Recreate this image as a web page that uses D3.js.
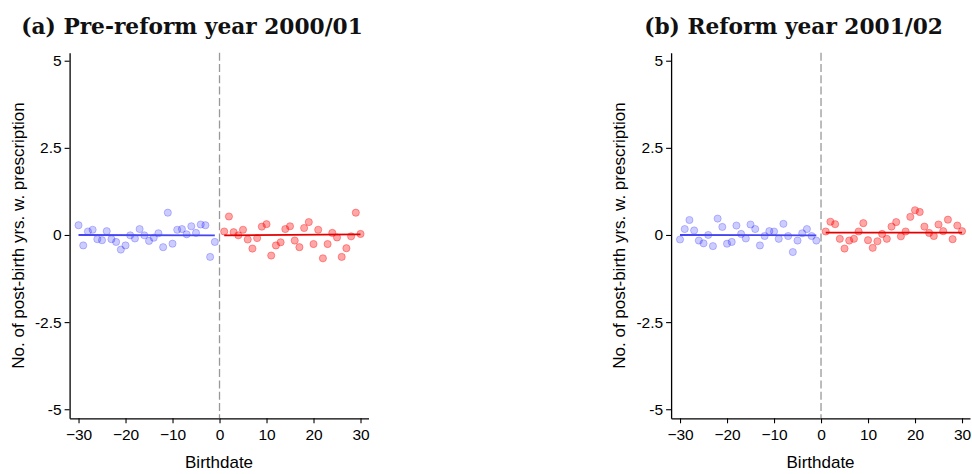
<!DOCTYPE html>
<html>
<head>
<meta charset="utf-8">
<script src="https://cdn.jsdelivr.net/npm/d3@7"></script>
<style>
  html, body { margin: 0; padding: 0; background: #fff; }
  svg { display: block; }
</style>
</head>
<body>
<svg id="chart" width="972" height="474"></svg>
<script>
// ---------------- data ----------------
const titles = ["(a) Pre-reform year 2000/01", "(b) Reform year 2001/02"];
const yAxisLabel = "No. of post-birth yrs. w. prescription";
const xAxisLabel = "Birthdate";
const xTicks = [-30, -20, -10, 0, 10, 20, 30];
const yTicks = [5, 2.5, 0, -2.5, -5];
const yTickLabels = ["5", "2.5", "0", "-2.5", "-5"];

const birthLeft  = [-30,-29,-28,-27,-26,-25,-24,-23,-22,-21,-20,-19,-18,-17,-16,-15,-14,-13,-12,-11,-10,-9,-8,-7,-6,-5,-4,-3,-2,-1];
const birthRight = [1,2,3,4,5,6,7,8,9,10,11,12,13,14,15,16,17,18,19,20,21,22,23,24,25,26,27,28,29,30];

const preLeft  = [0.28,-0.30,0.10,0.15,-0.12,-0.15,0.11,-0.12,-0.20,-0.42,-0.30,-0.01,-0.10,0.17,-0.01,-0.17,-0.08,0.05,-0.35,0.64,-0.25,0.15,0.17,0.02,0.25,0.06,0.30,0.28,-0.63,-0.20];
const preRight = [0.10,0.53,0.08,-0.01,0.15,-0.13,-0.39,-0.09,0.24,0.31,-0.59,-0.30,-0.21,0.17,0.25,-0.16,-0.35,0.20,0.37,-0.26,0.15,-0.67,-0.26,0.06,-0.07,-0.63,-0.38,-0.04,0.64,0.03];
const refLeft  = [-0.13,0.17,0.43,0.13,-0.16,-0.24,0.00,-0.32,0.47,0.23,-0.25,-0.20,0.27,0.03,-0.10,0.30,0.17,-0.30,-0.03,0.11,0.10,-0.11,0.32,-0.03,-0.49,-0.16,0.05,0.17,-0.03,-0.16];
const refRight = [0.10,0.38,0.31,-0.11,-0.39,-0.16,-0.11,0.10,0.34,-0.15,-0.37,-0.18,0.03,-0.11,0.24,0.37,-0.04,0.10,0.52,0.71,0.66,0.24,0.06,-0.03,0.30,0.11,0.44,-0.12,0.27,0.11];

// fitted line endpoints (value at first and last birthdate of each side)
const fitPreLeft  = [0.00, -0.01];
const fitPreRight = [-0.01, 0.02];
const fitRefLeft  = [0.00, -0.01];
const fitRefRight = [0.07, 0.07];

const panels = [
  { title: titles[0], left: preLeft, right: preRight, fitL: fitPreLeft, fitR: fitPreRight, ox: 0 },
  { title: titles[1], left: refLeft, right: refRight, fitL: fitRefLeft, fitR: fitRefRight, ox: 601.5 }
];

// ---------------- drawing ----------------
const svg = d3.select("#chart");
const sans = "'Liberation Sans', Arial, Helvetica, sans-serif";
const serif = "'DejaVu Serif', Georgia, serif";

panels.forEach(p => {
  const g = svg.append("g").attr("transform", `translate(${p.ox},0)`);
  const x = d3.scaleLinear().domain([-31.9, 31.7]).range([69.6, 368.5]);
  const y = d3.scaleLinear().domain([-5.26, 5.23]).range([418.3, 52.7]);

  // title
  g.append("text")
    .attr("x", 192).attr("y", 34)
    .attr("text-anchor", "middle")
    .style("font-family", serif).style("font-weight", "bold")
    .style("font-size", "21.7px").style("fill", "#111")
    .text(p.title);

  // x axis
  const xa = g.append("g").attr("transform", `translate(0,${y.range()[0]})`)
    .call(d3.axisBottom(x).tickValues(xTicks).tickSize(5).tickPadding(6).tickSizeOuter(0));
  // y axis
  const ya = g.append("g").attr("transform", `translate(${x.range()[0]},0)`)
    .call(d3.axisLeft(y).tickValues(yTicks).tickFormat((d, i) => yTickLabels[i]).tickSize(5).tickPadding(3).tickSizeOuter(0));
  [xa, ya].forEach(a => {
    a.select(".domain").attr("stroke", "#000").attr("stroke-width", 1.3);
    a.selectAll(".tick line").attr("stroke", "#000").attr("stroke-width", 1.1);
    a.selectAll(".tick text").style("font-family", sans).style("font-size", "15.5px").attr("fill", "#000");
  });

  // axis titles
  g.append("text")
    .attr("x", (x.range()[0] + x.range()[1]) / 2).attr("y", 468)
    .attr("text-anchor", "middle")
    .style("font-family", sans).style("font-size", "17px").style("fill", "#000")
    .text(xAxisLabel);
  g.append("text")
    .attr("transform", `translate(23.5,${(y.range()[0] + y.range()[1]) / 2}) rotate(-90)`)
    .attr("text-anchor", "middle")
    .style("font-family", sans).style("font-size", "17px").style("fill", "#000")
    .text(yAxisLabel);

  // cutoff line
  g.append("line")
    .attr("x1", x(0)).attr("x2", x(0))
    .attr("y1", y.range()[1]).attr("y2", y.range()[0])
    .attr("stroke", "#999").attr("stroke-width", 1.3)
    .attr("stroke-dasharray", "8,3.3");

  // points
  g.append("g").selectAll("circle").data(p.left).join("circle")
    .attr("cx", (d, i) => x(birthLeft[i])).attr("cy", d => y(d)).attr("r", 3.6)
    .attr("fill", "rgba(0,0,255,0.2)").attr("stroke", "rgba(0,0,255,0.22)").attr("stroke-width", 1);
  g.append("g").selectAll("circle").data(p.right).join("circle")
    .attr("cx", (d, i) => x(birthRight[i])).attr("cy", d => y(d)).attr("r", 3.6)
    .attr("fill", "rgba(255,0,0,0.35)").attr("stroke", "rgba(255,0,0,0.35)").attr("stroke-width", 1);

  // fitted lines
  const line = d3.line().x(d => x(d[0])).y(d => y(d[1]));
  g.append("path")
    .datum([[birthLeft[0], p.fitL[0]], [birthLeft[birthLeft.length - 1], p.fitL[1]]])
    .attr("d", line).attr("fill", "none").attr("stroke", "#4646f0").attr("stroke-width", 1.8);
  g.append("path")
    .datum([[birthRight[0], p.fitR[0]], [birthRight[birthRight.length - 1], p.fitR[1]]])
    .attr("d", line).attr("fill", "none").attr("stroke", "#e00000").attr("stroke-width", 1.8);
});
</script>
</body>
</html>
